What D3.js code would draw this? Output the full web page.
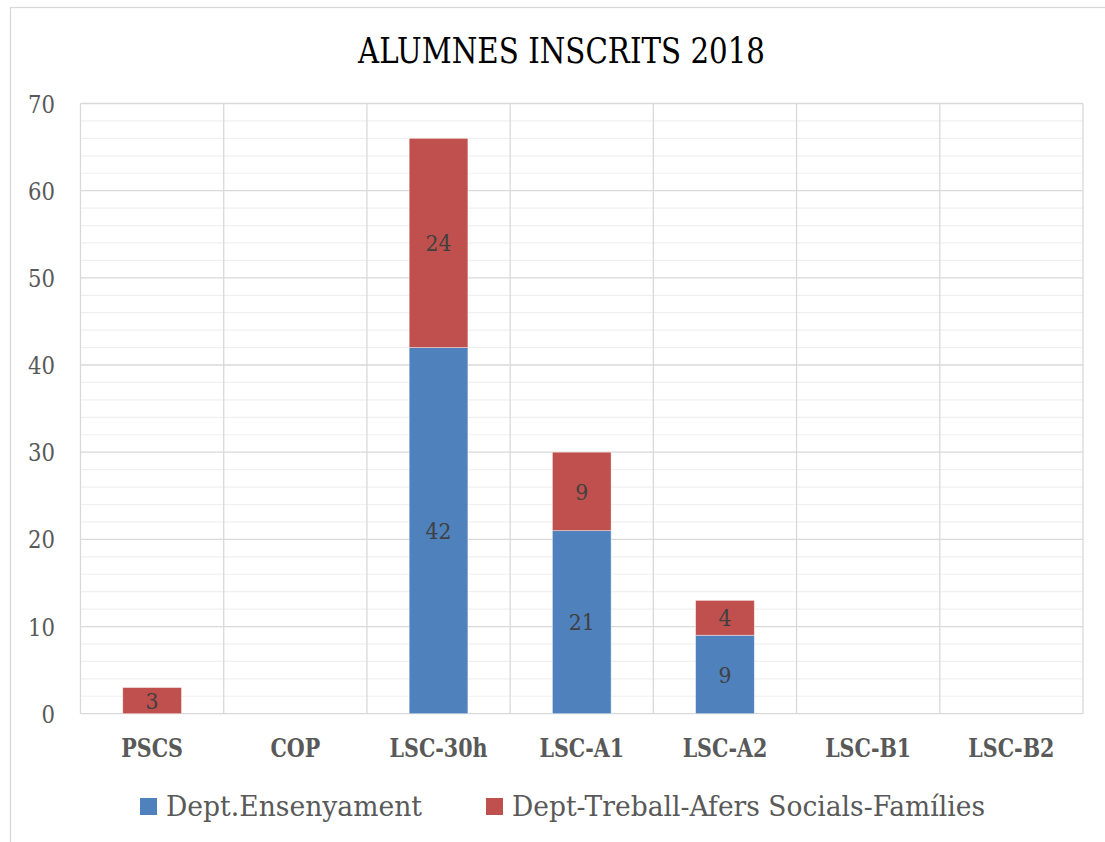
<!DOCTYPE html>
<html>
<head>
<meta charset="utf-8">
<script src="https://cdn.jsdelivr.net/npm/d3@7"></script>
<style>
  html, body { margin: 0; padding: 0; background: #fff; }
  svg { display: block; }
  text { font-family: "DejaVu Serif", "Liberation Serif", serif; }
</style>
</head>
<body>
<svg id="chart" width="1105" height="842"></svg>
<script>
const categories = ["PSCS", "COP", "LSC-30h", "LSC-A1", "LSC-A2", "LSC-B1", "LSC-B2"];
const seriesNames = ["Dept.Ensenyament", "Dept-Treball-Afers Socials-Famílies"];
const ensenyament = [0, 0, 42, 21, 9, 0, 0];
const treball = [3, 0, 24, 9, 4, 0, 0];
const yTicks = [0, 10, 20, 30, 40, 50, 60, 70];
const yMinorTicks = d3.range(0, 71, 2);
const titleText = "ALUMNES INSCRITS 2018";
const colors = ["#4F81BD", "#C0504D"];

(function () {
const svg = d3.select("#chart");
const pLeft = 80.5, pRight = 1083, pTop = 103.5, pBottom = 713.7;

// set font size, then compress horizontally so that the reference string has targetWidth
function condense(selection, fontSize, refText, targetWidth, bold) {
  const probe = svg.append("text").style("font-size", fontSize + "px")
    .attr("font-weight", bold ? "bold" : null).text(refText);
  const factor = targetWidth / probe.node().getComputedTextLength();
  probe.remove();
  selection.style("font-size", fontSize + "px").each(function () {
    const w = this.getComputedTextLength();
    d3.select(this).attr("textLength", w * factor).attr("lengthAdjust", "spacingAndGlyphs");
  });
}

// outer chart border
svg.append("rect").attr("x", 10.5).attr("y", 7.5).attr("width", 1110).attr("height", 850)
  .attr("fill", "#fff").attr("stroke", "#d9d9d9").attr("stroke-width", 1.3);

const x = d3.scaleBand().domain(categories).range([pLeft, pRight]).paddingInner(0.59).paddingOuter(0.295);
const xBound = d3.scaleBand().domain(categories).range([pLeft, pRight]).padding(0);
const y = d3.scaleLinear().domain([0, 70]).range([pBottom, pTop]);

const g = svg.append("g");

// minor gridlines
g.selectAll("line.minor").data(yMinorTicks.filter(v => v % 10 !== 0)).join("line")
  .attr("class", "minor")
  .attr("x1", pLeft).attr("x2", pRight).attr("y1", d => y(d)).attr("y2", d => y(d))
  .attr("stroke", "#f0f0f0").attr("stroke-width", 1.2);

// major gridlines
g.selectAll("line.major").data(yTicks).join("line")
  .attr("class", "major")
  .attr("x1", pLeft).attr("x2", pRight).attr("y1", d => y(d)).attr("y2", d => y(d))
  .attr("stroke", "#d9d9d9").attr("stroke-width", 1.3);

// vertical category boundaries
const bounds = categories.map(c => xBound(c)).concat([pRight]);
g.selectAll("line.vert").data(bounds).join("line")
  .attr("class", "vert")
  .attr("x1", d => d).attr("x2", d => d).attr("y1", pTop).attr("y2", pBottom)
  .attr("stroke", "#d9d9d9").attr("stroke-width", 1.3);

// stacked data
const rows = categories.map((c, i) => ({ cat: c, a: ensenyament[i], b: treball[i] }));
const stack = d3.stack().keys(["a", "b"])(rows);

stack.forEach((layer, li) => {
  const lg = g.append("g");
  layer.forEach(d => {
    const v = d[1] - d[0];
    if (v <= 0) return;
    lg.append("rect")
      .attr("x", x(d.data.cat)).attr("width", x.bandwidth())
      .attr("y", y(d[1])).attr("height", y(d[0]) - y(d[1]))
      .attr("fill", colors[li])
      .attr("stroke", "#fff").attr("stroke-opacity", 0.5).attr("stroke-width", 0.8);
  });
});

// data labels
const lblG = g.append("g");
stack.forEach((layer, li) => {
  layer.forEach(d => {
    const v = d[1] - d[0];
    if (v <= 0) return;
    lblG.append("text")
      .attr("class", "dlabel")
      .attr("x", x(d.data.cat) + x.bandwidth() / 2)
      .attr("y", y((d[0] + d[1]) / 2))
      .attr("dy", "0.36em")
      .attr("text-anchor", "middle")
      .attr("fill", "#404040")
      .text(v);
  });
});
condense(lblG.selectAll("text.dlabel"), 23, "24", 26, false);

// y tick labels
const yt = svg.selectAll("text.ytick").data(yTicks).join("text")
  .attr("class", "ytick")
  .attr("x", 55).attr("y", d => y(d)).attr("dy", "0.36em")
  .attr("text-anchor", "end").attr("fill", "#595959")
  .text(d => d);
condense(yt, 25, "70", 27, false);

// x labels
const xt = svg.selectAll("text.xtick").data(categories).join("text")
  .attr("class", "xtick")
  .attr("x", d => x(d) + x.bandwidth() / 2).attr("y", 757)
  .attr("text-anchor", "middle").attr("fill", "#595959")
  .attr("font-weight", "bold")
  .text(d => d);
condense(xt, 26, "LSC-30h", 98, true);

// title
const tt = svg.append("text").attr("x", 561.5).attr("y", 63)
  .attr("text-anchor", "middle").attr("fill", "#000").text(titleText);
condense(tt, 35.5, titleText, 407, false);

// legend
const legendItems = [
  { name: seriesNames[0], color: colors[0], sx: 140, tx: 166, w: 256 },
  { name: seriesNames[1], color: colors[1], sx: 486, tx: 512, w: 473 }
];
legendItems.forEach(it => {
  svg.append("rect").attr("x", it.sx).attr("y", 798).attr("width", 17).attr("height", 17).attr("fill", it.color);
  const t = svg.append("text").attr("x", it.tx).attr("y", 816).attr("fill", "#595959").text(it.name);
  condense(t, 27.5, it.name, it.w, false);
});
})();
</script>
</body>
</html>
